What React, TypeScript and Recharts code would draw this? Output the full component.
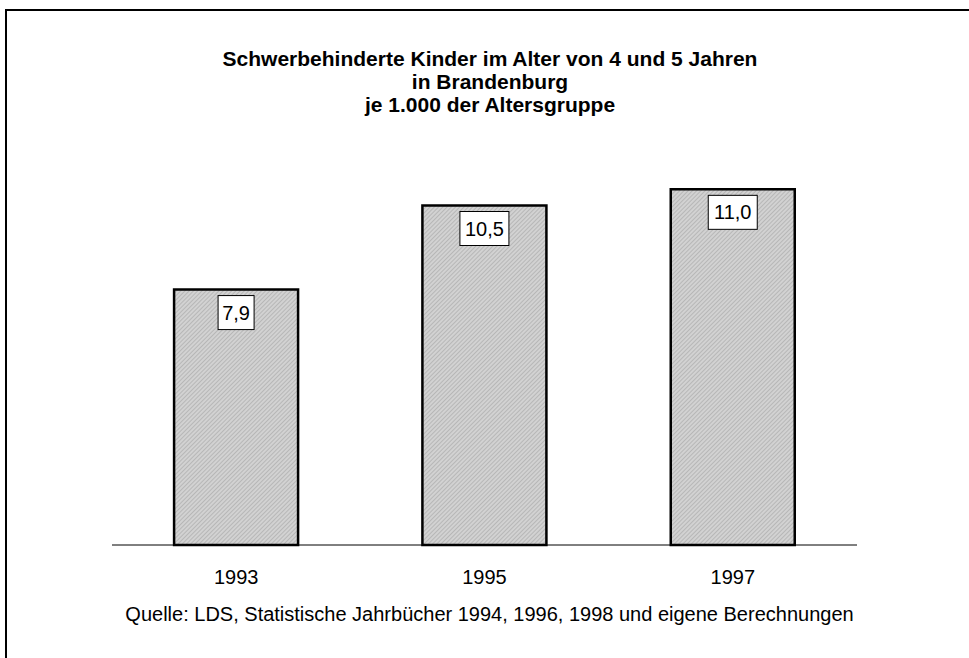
import React from 'react';
import { BarChart, Bar, XAxis, YAxis, LabelList } from 'recharts';

const categories = ['1993', '1995', '1997'];
const values = [7.9, 10.5, 11.0];
const valueLabels = ['7,9', '10,5', '11,0'];
const titleLines = [
  'Schwerbehinderte Kinder im Alter von 4 und 5 Jahren',
  'in Brandenburg',
  'je 1.000 der Altersgruppe',
];
const sourceText = 'Quelle: LDS, Statistische Jahrbücher 1994, 1996, 1998 und eigene Berechnungen';

const data = categories.map((c, i) => ({ year: c, value: values[i], label: valueLabels[i] }));

const FONT = '"Liberation Sans", Arial, sans-serif';

const ValueBox = (props: any) => {
  const { x, y, width, value } = props;
  const cx = x + width / 2;
  const w = String(value).length > 3 ? 49 : 36;
  const h = 34;
  return (
    <g>
      <rect x={cx - w / 2} y={y + 6} width={w} height={h} fill="#ffffff" stroke="#000" strokeWidth={1} />
      <text x={cx} y={y + 6 + h / 2 + 7} textAnchor="middle" fontFamily={FONT} fontSize={20} fill="#000">
        {value}
      </text>
    </g>
  );
};

export default function App() {
  return (
    <div style={{ position: 'absolute', left: 0, top: 0, width: 969, height: 658, overflow: 'hidden', background: '#fff', fontFamily: FONT }}>
      <div style={{ position: 'absolute', left: 5, top: 9, width: 980, height: 700, borderLeft: '2px solid #000', borderTop: '2px solid #000' }} />
      <div style={{ position: 'absolute', left: 0, top: 47, width: 980, textAlign: 'center', fontWeight: 'bold', fontSize: 21, lineHeight: '23px', color: '#000' }}>
        {titleLines.map((t) => (
          <div key={t}>{t}</div>
        ))}
      </div>
      <div style={{ position: 'absolute', left: 0, top: 0 }}>
        <BarChart width={969} height={658} data={data} margin={{ top: 157, right: 112, left: 112, bottom: 83 }} barCategoryGap="25%">
          <defs>
            <pattern id="hatch" patternUnits="userSpaceOnUse" width="3" height="3" patternTransform="rotate(45)">
              <rect width="3" height="3" fill="#d2d2d2" />
              <line x1="0" y1="0" x2="0" y2="3" stroke="#a0a0a0" strokeWidth="1.1" />
            </pattern>
          </defs>
          <XAxis
            dataKey="year"
            height={30}
            axisLine={{ stroke: '#000', strokeWidth: 1 }}
            tickLine={false}
            tickSize={0}
            tickMargin={25}
            tick={{ fill: '#000', fontSize: 20, fontFamily: FONT }}
          />
          <YAxis hide domain={[0, 12]} />
          <Bar dataKey="value" fill="url(#hatch)" stroke="#000" strokeWidth={2.5} isAnimationActive={false}>
            <LabelList dataKey="label" content={ValueBox} />
          </Bar>
        </BarChart>
      </div>
      <div style={{ position: 'absolute', left: 0, top: 603, width: 979, textAlign: 'center', fontSize: 20, lineHeight: '23px', color: '#000' }}>
        {sourceText}
      </div>
    </div>
  );
}
